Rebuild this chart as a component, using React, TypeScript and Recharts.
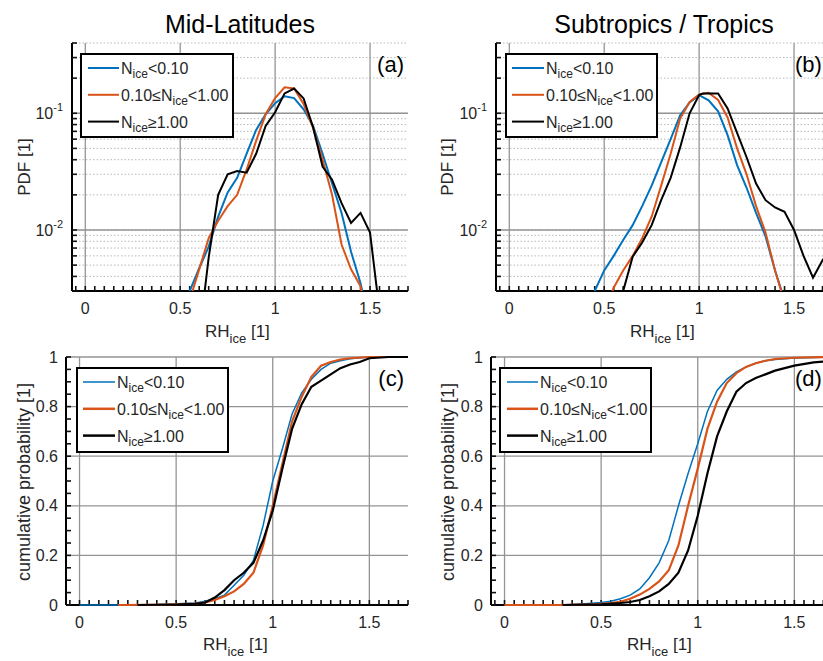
import { LineChart, Line, XAxis, YAxis, CartesianGrid, ReferenceLine } from "recharts";

const FONT = '"Liberation Sans", Arial, Helvetica, sans-serif';
const TEXT = "#262626";
const GRID = "#949494";
const COLORS = ["#0072BD", "#D95319", "#000000"];

type Pt = [number, number];

// axes
const xDomain: [number, number] = [-0.07, 1.7];
const xMajor = [0, 0.5, 1, 1.5];
const xMinor = [
  -0.05, 0, 0.05, 0.1, 0.15, 0.2, 0.25, 0.3, 0.35, 0.4, 0.45, 0.5, 0.55, 0.6, 0.65, 0.7, 0.75, 0.8,
  0.85, 0.9, 0.95, 1, 1.05, 1.1, 1.15, 1.2, 1.25, 1.3, 1.35, 1.4, 1.45, 1.5, 1.55, 1.6, 1.65, 1.7,
];
const pdfDomain: [number, number] = [0.003, 0.4];
const pdfMajor = [0.01, 0.1];
const pdfMajorExp = ["-2", "-1"];
const pdfMinor = [
  0.003, 0.004, 0.005, 0.006, 0.007, 0.008, 0.009, 0.01, 0.02, 0.03, 0.04, 0.05, 0.06, 0.07, 0.08,
  0.09, 0.1, 0.2, 0.3, 0.4,
];
const cdfDomain: [number, number] = [0, 1];
const cdfMajor = [0, 0.2, 0.4, 0.6, 0.8, 1];
const cdfMinor = [
  0, 0.05, 0.1, 0.15, 0.2, 0.25, 0.3, 0.35, 0.4, 0.45, 0.5, 0.55, 0.6, 0.65, 0.7, 0.75, 0.8, 0.85,
  0.9, 0.95, 1,
];

const legendRows = [
  ["N", "ice", "<0.10"],
  ["0.10\u2264N", "ice", "<1.00"],
  ["N", "ice", "\u22651.00"],
];

// (a) PDF mid-latitudes
const pdfMidLow: Pt[] = [
  [0.5, 0.0015], [0.55, 0.003], [0.6, 0.0047], [0.65, 0.0072], [0.7, 0.013], [0.75, 0.021],
  [0.8, 0.028], [0.85, 0.045], [0.9, 0.072], [0.95, 0.098], [1.0, 0.122], [1.05, 0.14],
  [1.1, 0.135], [1.15, 0.108], [1.2, 0.078], [1.25, 0.045], [1.3, 0.025], [1.35, 0.014],
  [1.4, 0.0065], [1.45, 0.0035], [1.5, 0.0015],
];
const pdfMidMid: Pt[] = [
  [0.5, 0.0012], [0.55, 0.0025], [0.6, 0.0046], [0.65, 0.0085], [0.7, 0.012], [0.75, 0.016],
  [0.8, 0.02], [0.85, 0.033], [0.9, 0.058], [0.95, 0.098], [1.0, 0.135], [1.05, 0.167],
  [1.1, 0.163], [1.15, 0.12], [1.2, 0.075], [1.25, 0.04], [1.3, 0.02], [1.35, 0.0075],
  [1.4, 0.0046], [1.45, 0.0033], [1.5, 0.0012],
];
const pdfMidHigh: Pt[] = [
  [0.6, 0.0012], [0.65, 0.0058], [0.7, 0.02], [0.75, 0.03], [0.8, 0.032], [0.85, 0.031],
  [0.9, 0.045], [0.95, 0.078], [1.0, 0.102], [1.05, 0.148], [1.1, 0.163], [1.15, 0.134],
  [1.2, 0.076], [1.25, 0.035], [1.3, 0.027], [1.35, 0.017], [1.4, 0.0115], [1.45, 0.014],
  [1.5, 0.0095], [1.55, 0.002],
];

// (b) PDF subtropics / tropics
const pdfTropLow: Pt[] = [
  [0.4, 0.0018], [0.45, 0.003], [0.5, 0.0045], [0.55, 0.006], [0.6, 0.0082], [0.65, 0.011],
  [0.7, 0.016], [0.75, 0.024], [0.8, 0.038], [0.85, 0.06], [0.9, 0.096], [0.95, 0.124],
  [1.0, 0.143], [1.05, 0.129], [1.1, 0.104], [1.15, 0.065], [1.2, 0.036], [1.25, 0.023],
  [1.3, 0.014], [1.35, 0.0088], [1.4, 0.0045], [1.45, 0.0025], [1.5, 0.0012],
];
const pdfTropMid: Pt[] = [
  [0.5, 0.002], [0.55, 0.0032], [0.6, 0.0045], [0.65, 0.006], [0.7, 0.0085], [0.75, 0.013],
  [0.8, 0.024], [0.85, 0.045], [0.9, 0.09], [0.95, 0.125], [1.0, 0.145], [1.05, 0.15],
  [1.1, 0.13], [1.15, 0.092], [1.2, 0.05], [1.25, 0.03], [1.3, 0.016], [1.35, 0.0095],
  [1.4, 0.0045], [1.45, 0.0024], [1.5, 0.0012],
];
const pdfTropHigh: Pt[] = [
  [0.55, 0.0015], [0.6, 0.003], [0.65, 0.0059], [0.7, 0.0078], [0.75, 0.011], [0.8, 0.018],
  [0.85, 0.028], [0.9, 0.051], [0.95, 0.1], [1.0, 0.143], [1.02, 0.148], [1.1, 0.148],
  [1.15, 0.11], [1.2, 0.068], [1.25, 0.042], [1.3, 0.025], [1.35, 0.018], [1.4, 0.0156],
  [1.45, 0.0143], [1.5, 0.01], [1.55, 0.006], [1.6, 0.0039], [1.65, 0.0055], [1.7, 0.007],
];

// (c) CDF mid-latitudes
const cdfMidLow: Pt[] = [
  [0, 0], [0.2, 0], [0.4, 0.002], [0.5, 0.005], [0.6, 0.008], [0.65, 0.015], [0.7, 0.025],
  [0.75, 0.04], [0.8, 0.08], [0.85, 0.12], [0.9, 0.18], [0.95, 0.32], [1.0, 0.5], [1.05, 0.63],
  [1.1, 0.77], [1.15, 0.855], [1.2, 0.91], [1.25, 0.95], [1.3, 0.975], [1.35, 0.985],
  [1.4, 0.993], [1.5, 1.0], [1.7, 1.0],
];
const cdfMidMid: Pt[] = [
  [0.2, 0], [0.4, 0.001], [0.5, 0.003], [0.6, 0.006], [0.65, 0.01], [0.7, 0.02], [0.75, 0.035],
  [0.8, 0.055], [0.85, 0.085], [0.9, 0.13], [0.95, 0.24], [1.0, 0.4], [1.05, 0.57], [1.1, 0.74],
  [1.15, 0.84], [1.2, 0.92], [1.25, 0.965], [1.3, 0.98], [1.35, 0.99], [1.4, 0.995], [1.5, 1.0],
  [1.7, 1.0],
];
const cdfMidHigh: Pt[] = [
  [0.3, 0], [0.5, 0.002], [0.6, 0.005], [0.65, 0.01], [0.7, 0.03], [0.75, 0.06], [0.8, 0.1],
  [0.85, 0.13], [0.9, 0.17], [0.95, 0.26], [1.0, 0.38], [1.05, 0.55], [1.1, 0.71], [1.15, 0.81],
  [1.2, 0.88], [1.25, 0.905], [1.3, 0.93], [1.35, 0.955], [1.4, 0.97], [1.45, 0.98],
  [1.5, 0.995], [1.6, 1.0], [1.7, 1.0],
];

// (d) CDF subtropics / tropics
const cdfTropLow: Pt[] = [
  [0, 0], [0.3, 0], [0.4, 0.004], [0.5, 0.01], [0.55, 0.015], [0.6, 0.025], [0.65, 0.04],
  [0.7, 0.065], [0.75, 0.11], [0.8, 0.17], [0.85, 0.26], [0.9, 0.4], [0.95, 0.53], [1.0, 0.65],
  [1.05, 0.78], [1.1, 0.865], [1.15, 0.91], [1.2, 0.94], [1.25, 0.96], [1.3, 0.975],
  [1.35, 0.985], [1.4, 0.99], [1.5, 0.996], [1.7, 1.0],
];
const cdfTropMid: Pt[] = [
  [0, 0], [0.3, 0], [0.45, 0.003], [0.5, 0.005], [0.55, 0.008], [0.6, 0.013], [0.65, 0.025],
  [0.7, 0.042], [0.75, 0.065], [0.8, 0.095], [0.85, 0.14], [0.9, 0.24], [0.95, 0.4], [1.0, 0.55],
  [1.05, 0.71], [1.1, 0.82], [1.15, 0.895], [1.2, 0.935], [1.25, 0.96], [1.3, 0.975],
  [1.35, 0.985], [1.4, 0.992], [1.5, 0.997], [1.7, 1.0],
];
const cdfTropHigh: Pt[] = [
  [0.3, 0], [0.5, 0.003], [0.6, 0.008], [0.65, 0.012], [0.7, 0.02], [0.75, 0.035], [0.8, 0.055],
  [0.85, 0.085], [0.9, 0.13], [0.95, 0.22], [1.0, 0.36], [1.05, 0.53], [1.1, 0.68], [1.15, 0.78],
  [1.2, 0.86], [1.25, 0.895], [1.3, 0.915], [1.35, 0.93], [1.4, 0.945], [1.45, 0.955],
  [1.5, 0.965], [1.6, 0.978], [1.7, 0.985],
];

const toRows = (pts: Pt[]) => pts.map(([x, y]) => ({ x, y }));

const LogTick = (props: any) => {
  const { x, y, payload } = props;
  const i = pdfMajor.indexOf(payload.value);
  if (i < 0) return <g />;
  return (
    <text x={x} y={y + 6} textAnchor="end" fill={TEXT} fontSize={16} fontFamily={FONT}>
      10
      <tspan dy={-8} fontSize={11}>
        {pdfMajorExp[i]}
      </tspan>
    </text>
  );
};

interface PanelProps {
  left: number;
  top: number;
  width: number;
  height: number;
  log: boolean;
  series: Pt[][];
}

const Panel = ({ left, top, width, height, log, series }: PanelProps) => {
  const axisLine = { stroke: "#000", strokeWidth: 2 };
  const tickLine = { stroke: "#111", strokeWidth: 1.6 };
  const yDomain = log ? pdfDomain : cdfDomain;
  const yTicks = log ? pdfMinor : cdfMinor;
  const yMajor = log ? pdfMajor : cdfMajor;
  const widths = log ? [2, 2, 2] : [1.5, 2.2, 2.2];
  return (
    <div style={{ position: "absolute", left: left - 60, top: top - 10 }}>
      <LineChart
        width={60 + width + 10}
        height={10 + height + 40}
        margin={{ top: 10, right: 10, bottom: 0, left: 0 }}
      >
        {log && (
          <CartesianGrid
            xAxisId="b"
            yAxisId="l"
            vertical={false}
            stroke="#b8b8b8"
            strokeDasharray="1.5 2"
          />
        )}
        {xMajor.map((v) => (
          <ReferenceLine key={"gx" + v} xAxisId="b" yAxisId="l" x={v} stroke={GRID} strokeWidth={1.3} />
        ))}
        {yMajor.map((v) => (
          <ReferenceLine key={"gy" + v} xAxisId="b" yAxisId="l" y={v} stroke={GRID} strokeWidth={1.3} />
        ))}
        <XAxis
          xAxisId="b"
          dataKey="x"
          type="number"
          domain={xDomain}
          allowDataOverflow={log}
          ticks={xMinor}
          interval={0}
          tickSize={-5}
          tickMargin={17}
          height={40}
          axisLine={axisLine}
          tickLine={tickLine}
          tick={{ fill: TEXT, fontSize: 16, fontFamily: FONT }}
          tickFormatter={(v: number) => (xMajor.includes(v) ? String(v) : "")}
        />
        <XAxis
          xAxisId="t"
          orientation="top"
          type="number"
          domain={xDomain}
          allowDataOverflow={log}
          ticks={xMinor}
          interval={0}
          tickSize={-5}
          height={0}
          axisLine={axisLine}
          tickLine={tickLine}
          tick={false}
        />
        <YAxis
          yAxisId="l"
          type="number"
          scale={log ? "log" : "linear"}
          domain={yDomain}
          allowDataOverflow={log}
          ticks={yTicks}
          interval={0}
          tickSize={-5}
          tickMargin={log ? 14 : 13}
          width={60}
          axisLine={axisLine}
          tickLine={tickLine}
          tick={log ? <LogTick /> : { fill: TEXT, fontSize: 16, fontFamily: FONT }}
          tickFormatter={(v: number) => (cdfMajor.includes(v) ? String(v) : "")}
        />
        <YAxis
          yAxisId="r"
          orientation="right"
          type="number"
          scale={log ? "log" : "linear"}
          domain={yDomain}
          allowDataOverflow={log}
          ticks={yTicks}
          interval={0}
          tickSize={-5}
          width={0}
          axisLine={axisLine}
          tickLine={tickLine}
          tick={false}
        />
        {series.map((s, i) => (
          <Line
            key={i}
            xAxisId="b"
            yAxisId="l"
            data={toRows(s)}
            dataKey="y"
            type="linear"
            stroke={COLORS[i]}
            strokeWidth={widths[i]}
            dot={false}
            isAnimationActive={false}
            zIndex={600}
          />
        ))}
      </LineChart>
    </div>
  );
};

const panels = [
  { key: "a", left: 72, top: 43, width: 336, height: 248, log: true, series: [pdfMidLow, pdfMidMid, pdfMidHigh] },
  { key: "b", left: 496, top: 43, width: 336, height: 248, log: true, series: [pdfTropLow, pdfTropMid, pdfTropHigh] },
  { key: "c", left: 66, top: 357, width: 342, height: 248, log: false, series: [cdfMidLow, cdfMidMid, cdfMidHigh] },
  { key: "d", left: 491, top: 357, width: 342, height: 248, log: false, series: [cdfTropLow, cdfTropMid, cdfTropHigh] },
];

const legends = [
  { x: 81, y: 54, w: 152, h: 83, l1: 88, l2: 119, tx: 121, widths: [2, 2, 2] },
  { x: 506, y: 54, w: 151, h: 83, l1: 512, l2: 544, tx: 546, widths: [2, 2, 2] },
  { x: 77, y: 368, w: 151, h: 84, l1: 83, l2: 115, tx: 117, widths: [1.5, 2.5, 2.5] },
  { x: 500, y: 368, w: 151, h: 84, l1: 507, l2: 538, tx: 540, widths: [1.5, 2.5, 2.5] },
];

const rhLabels = [
  { x: 205, y: 337 },
  { x: 630, y: 337 },
  { x: 203, y: 650 },
  { x: 627, y: 650 },
];

const App = () => {
  return (
    <div
      style={{
        position: "absolute",
        left: 0,
        top: 0,
        width: 823,
        height: 661,
        overflow: "hidden",
        background: "#fff",
        fontFamily: FONT,
      }}
    >
      {panels.map((p) => (
        <Panel key={p.key} left={p.left} top={p.top} width={p.width} height={p.height} log={p.log} series={p.series} />
      ))}
      <svg
        width={823}
        height={661}
        style={{ position: "absolute", left: 0, top: 0, pointerEvents: "none" }}
        fontFamily={FONT}
      >
        <text x={240} y={33} textAnchor="middle" fontSize={25} fill="#000">
          Mid-Latitudes
        </text>
        <text x={664} y={33} textAnchor="middle" fontSize={25} fill="#000">
          Subtropics / Tropics
        </text>

        <text transform="translate(30,167) rotate(-90)" textAnchor="middle" fontSize={17} fill={TEXT}>
          PDF [1]
        </text>
        <text transform="translate(453,167) rotate(-90)" textAnchor="middle" fontSize={17} fill={TEXT}>
          PDF [1]
        </text>
        <text transform="translate(30,482) rotate(-90)" textAnchor="middle" fontSize={18} fill={TEXT}>
          cumulative probability [1]
        </text>
        <text transform="translate(454,482) rotate(-90)" textAnchor="middle" fontSize={18} fill={TEXT}>
          cumulative probability [1]
        </text>

        {rhLabels.map((r, i) => (
          <text key={"rh" + i} x={r.x} y={r.y} fontSize={17} fill={TEXT}>
            RH
            <tspan dy={6} fontSize={13}>
              ice
            </tspan>
            <tspan dy={-6} fontSize={17}>
              {" [1]"}
            </tspan>
          </text>
        ))}

        <text x={404} y={72} textAnchor="end" fontSize={22} fill="#000">(a)</text>
        <text x={795} y={72} fontSize={22} fill="#000">(b)</text>
        <text x={404} y={386} textAnchor="end" fontSize={22} fill="#000">(c)</text>
        <text x={795} y={386} fontSize={22} fill="#000">(d)</text>

        {legends.map((g, i) => (
          <g key={"lg" + i}>
            <rect x={g.x} y={g.y} width={g.w} height={g.h} fill="#fff" stroke="#000" strokeWidth={2} />
            {legendRows.map((row, j) => {
              const ly = g.y + 14 + j * 26.8;
              return (
                <g key={j}>
                  <line x1={g.l1} x2={g.l2} y1={ly} y2={ly} stroke={COLORS[j]} strokeWidth={g.widths[j]} />
                  <text x={g.tx} y={ly + 6} fontSize={16} fill={TEXT}>
                    {row[0]}
                    <tspan dy={4} fontSize={12}>
                      {row[1]}
                    </tspan>
                    <tspan dy={-4} fontSize={16}>
                      {row[2]}
                    </tspan>
                  </text>
                </g>
              );
            })}
          </g>
        ))}
      </svg>
    </div>
  );
};

export default App;
